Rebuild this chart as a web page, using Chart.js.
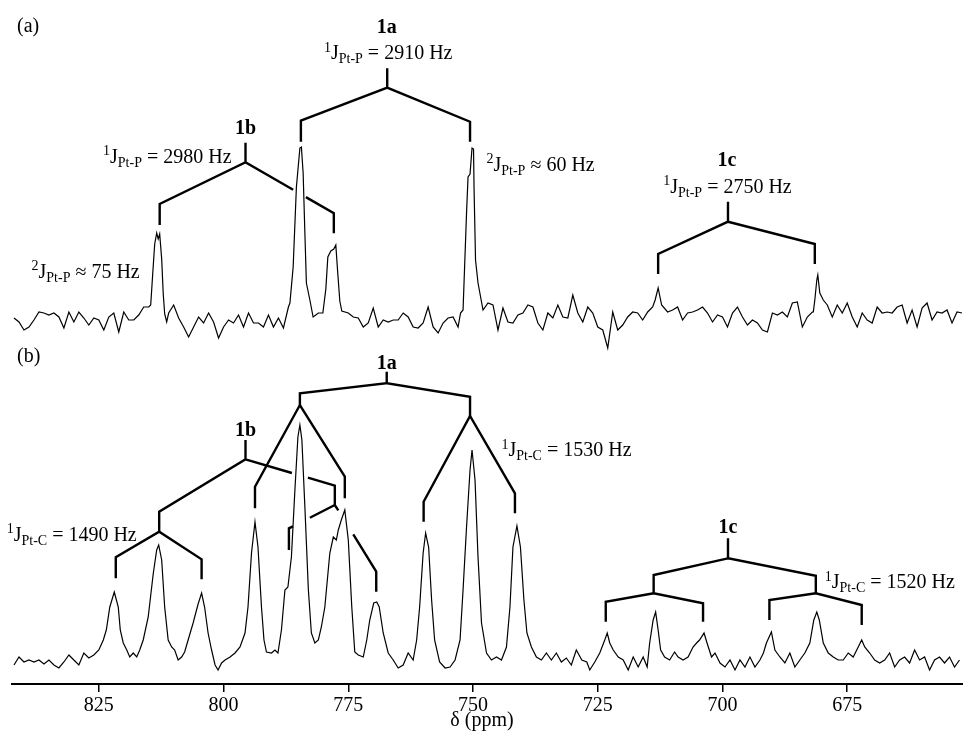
<!DOCTYPE html>
<html><head><meta charset="utf-8">
<script src="https://cdn.jsdelivr.net/npm/chart.js@4/dist/chart.umd.min.js"></script>
<style>html,body{margin:0;padding:0;background:#fff;}canvas{display:block;}</style>
</head><body>
<canvas id="c" width="963" height="742"></canvas>
<script>
// ---- tick labels (ppm) ----
const TICKS = [825, 800, 775, 750, 725, 700, 675];

// ---- spectrum (a): 31P, chemical shift (ppm) and intensity ----
const A_PPM = [842,841,840,839,838,837,836,835,834,833,832,831,830,829,828,827,826,825,824,823,822,821,820,819,818,817,816,815,
814.6,814.2,813.8,813.4,813.1,812.8,812.4,812.1,811.8,811.4,811,
810,809,808,807,806,805,804,803,802,801,800,799,798,797,796,795,794,793,792,791,790,789,788,787,
786.7,786.05,785.4,784.7,784.4,784.05,783.7,783.4,782.7,782.05,
781,780.1,779.5,779.1,778.5,777.9,777.5,777.1,776.7,776.3,
775,774,773,772,771,770,769,768,767,766,765,764,763,762,761,760,759,758,757,756,755,754,753,752.5,
752,751.3,751,750.6,750.2,749.9,749.8,749.5,749,748,
747,746,745,744,743,742,741,740,739,738,737,736,735,734,733,732,731,730,729,728,727,726,725,724,723,722,721,720,719,718,717,716,715,714,
713.5,712.9,712.2,711,710,709,708,707,706,705,704,703,702,701,700,699,698,697,696,695,694,693,692,691,690,689,688,687,686,685,684,683,682,
681.8,681.5,681.1,680.9,680.5,679.8,679,678,677,676,675,674,673,672,671,670,669,668,667,666,665,664,663,662,661,660,659,658,657,656,655,654,653,652];
const A_INT = [1,-3,-11,-8,-1,7,6,4,6,2,-9,7,-3,7,1,-6,1,-1,-11,2,6,-13,7,-1,-1,4,12,12,
14,45,75,86,80,85,60,26,5,-3,6,
14,1,-8,-18,-8,2,-4,6,-3,-19,-8,-1,-4,4,-8,6,-4,-4,-8,4,-8,1,-9,12,
16,52,132,171,172,146,86,36,19,2,
6,6,30,62,68,70,74,45,18,8,
6,2,1,-8,-4,11,-8,-1,-3,-1,-1,6,2,-8,-9,-4,12,-8,-14,-4,1,2,-8,6,
9,106,142,145,171,170,132,59,36,9,
16,14,-11,11,-3,-4,4,6,14,12,-4,-11,6,1,14,2,1,24,6,-3,12,6,-8,-11,-29,7,-11,-6,2,7,6,-1,7,12,
19,31,14,7,9,12,-1,6,7,9,12,6,-3,4,2,-8,6,12,2,-6,-1,-4,-11,-13,6,4,7,2,16,17,-8,2,7,
7,19,39,44,26,19,14,2,14,6,16,2,-8,6,-1,-4,12,6,7,6,12,14,-4,9,-8,11,16,-1,7,6,9,-4,7,6];

// ---- spectrum (b): 13C, chemical shift (ppm) and intensity ----
const B_PPM = [842,841,840,839,838,837,836,835,834,833,832,831,830,829,828,827,826,825,
824.1,823.5,822.8,821.9,821.1,820.7,820.1,819.4,818.8,818.1,817.4,816.8,816.1,815.1,814.1,813.4,813.0,812.4,811.8,811.1,810.4,809.8,809.1,808.4,807.8,807.1,806.1,805.1,804.4,803.8,803.1,802.4,801.7,801.1,800.4,799.7,798.7,797.7,796.7,795.7,795.1,794.4,793.7,793.1,792.4,791.9,791.4,790.4,789.7,789.1,788.4,787.7,787.1,786.4,785.7,785.1,784.7,784.3,783.7,783.0,782.4,781.7,781.0,780.4,779.7,778.7,778.0,777.4,777.0,776.4,775.7,775.0,774.3,773.7,773.0,772.0,771.3,770.7,769.9,769.3,768.8,768.0,767.0,766.0,765.0,764.0,763.0,762.0,761.3,760.7,760.0,759.5,758.9,758.3,757.7,756.7,755.6,754.6,753.6,752.6,752.0,751.3,750.6,750.2,749.6,749.0,748.3,747.3,746.3,745.3,744.3,743.3,742.6,742.0,741.2,740.5,739.8,739.2,738.3,737.3,736.3,735.3,734.3,733.3,732.3,731.3,730.3,729.3,728.2,727.2,726.6,725.6,724.6,723.6,723.1,722.6,721.9,720.9,719.9,718.9,717.9,716.9,715.9,715.1,714.6,713.9,713.4,712.9,712.4,711.6,710.6,709.6,708.9,707.9,706.9,705.9,705.2,704.6,703.7,703.1,702.2,701.5,700.5,699.5,698.5,697.5,696.5,695.5,694.5,693.5,692.5,691.8,691.2,690.2,689.5,688.5,687.5,686.5,685.5,684.5,683.5,682.5,681.7,681.1,680.6,679.8,678.8,677.8,676.8,675.8,674.8,673.8,672.8,672.1,671.5,670.5,669.5,668.5,667.5,666.5,665.5,664.5,663.5,662.5,661.5,660.5,659.5,658.5,657.5,656.5,655.5,654.5,653.5,652.5];
const B_INT = [-2,6,1,3,1,3,-1,3,-2,-5,1,8,3,-2,10,5,8,13,
23,33,56,71,56,33,20,13,6,10,6,13,23,46,89,113,118,103,56,23,16,13,3,6,11,23,40,59,70,56,30,13,-2,-7,0,3,6,10,16,30,56,110,141,116,56,23,11,10,13,10,33,73,76,106,173,226,238,223,156,73,30,20,23,36,56,110,126,123,133,143,153,123,56,11,8,6,23,43,60,61,56,30,10,3,-5,-2,10,3,23,56,110,130,116,63,23,1,-5,-4,3,23,73,136,193,213,183,106,40,10,3,6,3,16,56,116,137,116,63,30,16,6,3,10,3,10,1,5,-2,13,3,1,-7,1,10,23,30,20,13,6,3,-7,6,-4,6,-4,20,43,51,33,13,6,3,11,6,3,6,16,20,23,30,20,6,10,0,-4,3,-7,3,-4,6,-4,3,10,20,31,13,6,0,10,-4,3,10,20,43,51,43,20,10,6,3,3,10,6,16,23,16,10,3,0,3,10,-4,3,6,0,13,3,6,-7,3,6,0,6,-4,3];

// ---- vertical offsets of the two traces (display units) ----
const OFFSET_A = 365, OFFSET_B = 21;

// ---- splitting brackets, as [ppm, height] vertices (null = gap) ----
const BR_A_1A = [[784.5,542.3],[784.5,563.3],[767.2,596.3],[767.2,615.7],[767.2,596.3],[750.6,562.3],[750.6,542.3]];
const BR_A_1B = [[812.8,459],[812.8,480],[795.6,521.7],[795.6,541.3],[795.6,521.7],[786.05,494.2],null,[783.5,486.9],[777.9,470.7],[777.9,450.7]];
const BR_A_1C = [[712.9,410],[712.9,430],[698.9,462.3],[698.9,482.3],[698.9,462.3],[681.5,440],[681.5,420]];
const BR_B_1A = [[784.7,279],[784.7,290.7],[767.3,300.7],[767.3,312.3],[767.3,300.7],[750.6,287.3],[750.6,268]];
const BR_B_1A_L = [[793.7,175.7],[793.7,197.3],[784.7,279],[775.7,207.3],[775.7,185.7]];
const BR_B_1A_R = [[759.9,162.3],[759.9,182.3],[750.6,268],[741.6,190.7],[741.6,170.7]];
const BR_B_1B = [[812.9,152.3],[812.9,172.3],[795.6,224.7],[795.6,244],[795.6,224.7],[786.3,211],null,[783.1,206.3],[777.7,198.3],[777.7,179]];
const BR_B_1B_L = [[821.6,105.7],[821.6,126.7],[812.9,152.3],[804.4,124.7],[804.4,104.7]];
const BR_B_1B_R = [[786.9,134],[786.9,155.7],[786.1,157.6],null,[782.7,166.3],[777.7,179],[777.0,173.7],null,[774.0,149.7],[769.4,112.3],[769.4,92.3]];
const BR_B_1C = [[713.8,90.7],[713.8,109],[698.9,125.7],[698.9,145.7],[698.9,125.7],[681.3,108.3],[681.3,90.7]];
const BR_B_1C_L = [[723.4,62.3],[723.4,82.3],[713.8,90.7],[703.9,80.7],[703.9,62.3]];
const BR_B_1C_R = [[690.6,64],[690.6,84],[681.3,90.7],[672.1,79],[672.1,59]];
const BRACKETS = [BR_A_1A, BR_A_1B, BR_A_1C, BR_B_1A, BR_B_1A_L, BR_B_1A_R, BR_B_1B, BR_B_1B_L, BR_B_1B_R, BR_B_1C, BR_B_1C_L, BR_B_1C_R];

// ---- text labels: anchor [ppm, height], alignment, parts ----
const LABELS = [
  {ppm:841.4, v:659, align:'left', parts:[{t:'(a)'}]},
  {ppm:767.3, v:657.3, align:'center', bold:true, parts:[{t:'1a'}]},
  {ppm:767.0, v:631.5, align:'center', parts:[{t:'1',s:'sup'},{t:'J'},{t:'Pt-P',s:'sub'},{t:' = 2910 Hz'}]},
  {ppm:747.3, v:520, align:'left', parts:[{t:'2',s:'sup'},{t:'J'},{t:'Pt-P',s:'sub'},{t:' \u2248 60 Hz'}]},
  {ppm:795.6, v:556.5, align:'center', bold:true, parts:[{t:'1b'}]},
  {ppm:798.4, v:528, align:'right', parts:[{t:'1',s:'sup'},{t:'J'},{t:'Pt-P',s:'sub'},{t:' = 2980 Hz'}]},
  {ppm:816.8, v:413, align:'right', parts:[{t:'2',s:'sup'},{t:'J'},{t:'Pt-P',s:'sub'},{t:' \u2248 75 Hz'}]},
  {ppm:699.1, v:525, align:'center', bold:true, parts:[{t:'1c'}]},
  {ppm:699.0, v:498, align:'center', parts:[{t:'1',s:'sup'},{t:'J'},{t:'Pt-P',s:'sub'},{t:' = 2750 Hz'}]},
  {ppm:841.4, v:329, align:'left', parts:[{t:'(b)'}]},
  {ppm:767.3, v:321.5, align:'center', bold:true, parts:[{t:'1a'}]},
  {ppm:795.6, v:255, align:'center', bold:true, parts:[{t:'1b'}]},
  {ppm:817.4, v:150, align:'right', parts:[{t:'1',s:'sup'},{t:'J'},{t:'Pt-C',s:'sub'},{t:' = 1490 Hz'}]},
  {ppm:744.3, v:234.5, align:'left', parts:[{t:'1',s:'sup'},{t:'J'},{t:'Pt-C',s:'sub'},{t:' = 1530 Hz'}]},
  {ppm:698.9, v:158, align:'center', bold:true, parts:[{t:'1c'}]},
  {ppm:679.5, v:102.5, align:'left', parts:[{t:'1',s:'sup'},{t:'J'},{t:'Pt-C',s:'sub'},{t:' = 1520 Hz'}]}
];
const AXIS_TITLE = '\u03B4 (ppm)';
const AXIS_TITLE_PPM = 748.2;

const FONT = '"Liberation Serif", "Times New Roman", serif';

function drawRich(ctx, x, yMid, parts, align, bold) {
  const base = (bold ? 'bold ' : '') + '20px ' + FONT;
  const small = '14px ' + FONT;
  let w = 0;
  parts.forEach(p => { ctx.font = p.s ? small : base; w += ctx.measureText(p.t).width; });
  let cx = align === 'center' ? x - w / 2 : (align === 'right' ? x - w : x);
  const y = yMid + 6.5;
  ctx.textBaseline = 'alphabetic';
  ctx.textAlign = 'left';
  ctx.fillStyle = '#000';
  parts.forEach(p => {
    ctx.font = p.s ? small : base;
    const dy = p.s === 'sup' ? -7.5 : (p.s === 'sub' ? 4 : 0);
    ctx.fillText(p.t, cx, y + dy);
    cx += ctx.measureText(p.t).width;
  });
}

const textPlugin = {
  id: 'nmrText',
  afterDraw(chart) {
    const ctx = chart.ctx, xs = chart.scales.x, ys = chart.scales.y;
    ctx.save();
    LABELS.forEach(l => drawRich(ctx, xs.getPixelForValue(l.ppm), ys.getPixelForValue(l.v), l.parts, l.align, l.bold));
    ctx.font = '20px ' + FONT;
    ctx.textAlign = 'center';
    ctx.textBaseline = 'middle';
    ctx.fillStyle = '#000';
    ctx.fillText(AXIS_TITLE, xs.getPixelForValue(AXIS_TITLE_PPM), chart.chartArea.bottom + 37);
    ctx.restore();
  }
};

const datasets = [];
datasets.push({data: A_PPM.map((p, i) => ({x: p, y: A_INT[i] + OFFSET_A})), borderColor: '#000', borderWidth: 1.2, pointRadius: 0, tension: 0});
datasets.push({data: B_PPM.map((p, i) => ({x: p, y: B_INT[i] + OFFSET_B})), borderColor: '#000', borderWidth: 1.2, pointRadius: 0, tension: 0});
BRACKETS.forEach(br => {
  const pts = [];
  br.forEach((p, i) => {
    if (p) pts.push({x: p[0], y: p[1]});
    else pts.push({x: (br[i - 1][0] + br[i + 1][0]) / 2, y: null});
  });
  datasets.push({data: pts, borderColor: '#000', borderWidth: 2.4, pointRadius: 0, tension: 0, spanGaps: false, borderCapStyle: 'butt', borderJoinStyle: 'miter'});
});

new Chart(document.getElementById('c'), {
  type: 'line',
  data: {datasets},
  options: {
    responsive: false,
    animation: false,
    devicePixelRatio: 1,
    events: [],
    layout: {padding: {left: 12, right: 0, top: 0, bottom: 0}},
    plugins: {legend: {display: false}, tooltip: {enabled: false}, title: {display: false}},
    scales: {
      x: {
        type: 'linear', reverse: true, min: 651.8, max: 842.4,
        afterBuildTicks: s => { s.ticks = TICKS.map(v => ({value: v})); },
        afterFit: s => { s.height = 58; },
        grid: {display: true, drawOnChartArea: false, drawTicks: true, tickLength: 8, color: '#000', lineWidth: 1.5},
        border: {display: true, color: '#000', width: 2},
        ticks: {color: '#000', font: {family: FONT, size: 20}, padding: 2, maxRotation: 0, autoSkip: false, callback: v => String(v)}
      },
      y: {display: false, min: 0, max: 684}
    }
  },
  plugins: [textPlugin]
});
</script>
</body></html>
